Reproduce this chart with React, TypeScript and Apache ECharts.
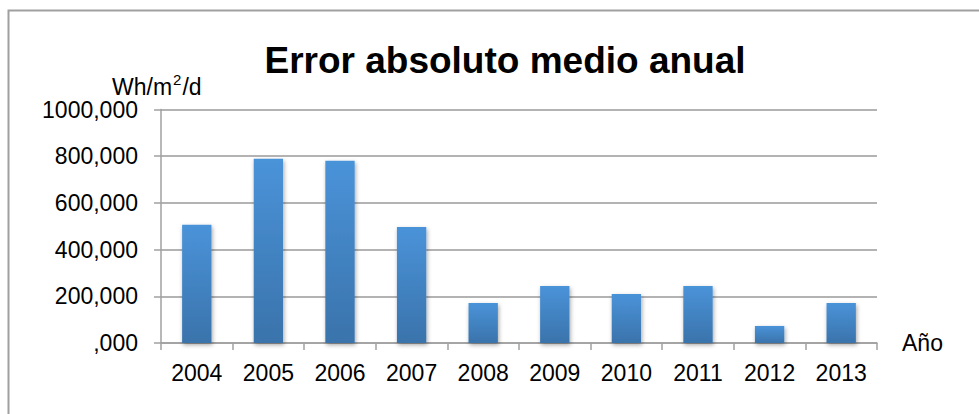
import React, { useEffect, useRef } from "react";
import * as echarts from "echarts";

// Mean absolute error per year (Wh/m²/d)
const years = ["2004", "2005", "2006", "2007", "2008", "2009", "2010", "2011", "2012", "2013"];
const errorValues = [506, 789, 780, 497, 171, 244, 210, 244, 73, 171];
const yTickLabels = [",000", "200,000", "400,000", "600,000", "800,000", "1000,000"];

const FONT = "'Liberation Sans', Arial, Helvetica, sans-serif";

export default function App() {
  const ref = useRef<HTMLDivElement>(null);

  useEffect(() => {
    if (!ref.current) return;
    const chart = echarts.init(ref.current, null, { renderer: "svg" });
    chart.setOption({
      animation: false,
      backgroundColor: "#ffffff",
      textStyle: { fontFamily: FONT },
      title: {
        text: "Error absoluto medio anual",
        left: 500,
        top: 37,
        textAlign: "center",
        textStyle: { fontFamily: FONT, fontSize: 37, fontWeight: "bold", color: "#000" },
      },
      graphic: [
        {
          type: "rect",
          shape: { x: 8.5, y: 10.5, width: 1200, height: 800 },
          style: { fill: "none", stroke: "#a0a0a0", lineWidth: 2 },
          silent: true,
        },
        {
          // unit label with a raised "2"
          type: "text",
          x: 112,
          y: 72,
          style: {
            text: "{a|Wh/m}{s|2}{a|/d}",
            fontFamily: FONT,
            fill: "#000",
            rich: {
              a: { fontFamily: FONT, fontSize: 23, lineHeight: 26, fill: "#000", verticalAlign: "bottom" },
              s: { fontFamily: FONT, fontSize: 15, lineHeight: 26, fill: "#000", verticalAlign: "top", padding: [0, 1, 0, 1] },
            },
          },
        },
      ],
      grid: { left: 161, right: 102, top: 109.5, bottom: 71, containLabel: false },
      xAxis: {
        type: "category",
        data: years,
        name: "Año",
        nameLocation: "end",
        nameGap: 25,
        nameTextStyle: { fontFamily: FONT, fontSize: 23, color: "#000", padding: [8, 0, 0, 0] },
        axisLine: { show: true, lineStyle: { color: "#a0a0a0", width: 1.5 } },
        axisTick: { show: true, alignWithLabel: false, length: 7, lineStyle: { color: "#a0a0a0", width: 1.5 } },
        axisLabel: { fontFamily: FONT, fontSize: 23, color: "#000", margin: 18 },
        splitLine: { show: false },
      },
      yAxis: {
        type: "value",
        min: 0,
        max: 1000,
        interval: 200,
        axisLine: { show: true, lineStyle: { color: "#a0a0a0", width: 1.5 } },
        axisTick: { show: true, length: 7, lineStyle: { color: "#a0a0a0", width: 1.5 } },
        axisLabel: {
          fontFamily: FONT,
          fontSize: 23,
          color: "#000",
          margin: 23,
          formatter: (v: number) => yTickLabels[Math.round(v / 200)] ?? "",
        },
        splitLine: { show: true, lineStyle: { color: "#9a9a9a", width: 1.5 } },
      },
      series: [
        {
          type: "bar",
          data: errorValues,
          barWidth: "41%",
          itemStyle: {
            color: new echarts.graphic.LinearGradient(0, 0, 0, 1, [
              { offset: 0, color: "#4a93d9" },
              { offset: 1, color: "#3a73ab" },
            ]),
            shadowColor: "rgba(0,0,0,0.35)",
            shadowBlur: 4,
            shadowOffsetX: 1,
            shadowOffsetY: 2,
          },
        },
      ],
    });
    return () => chart.dispose();
  }, []);

  return (
    <div
      ref={ref}
      style={{ position: "absolute", left: 0, top: 0, width: 979, height: 414 }}
    />
  );
}
